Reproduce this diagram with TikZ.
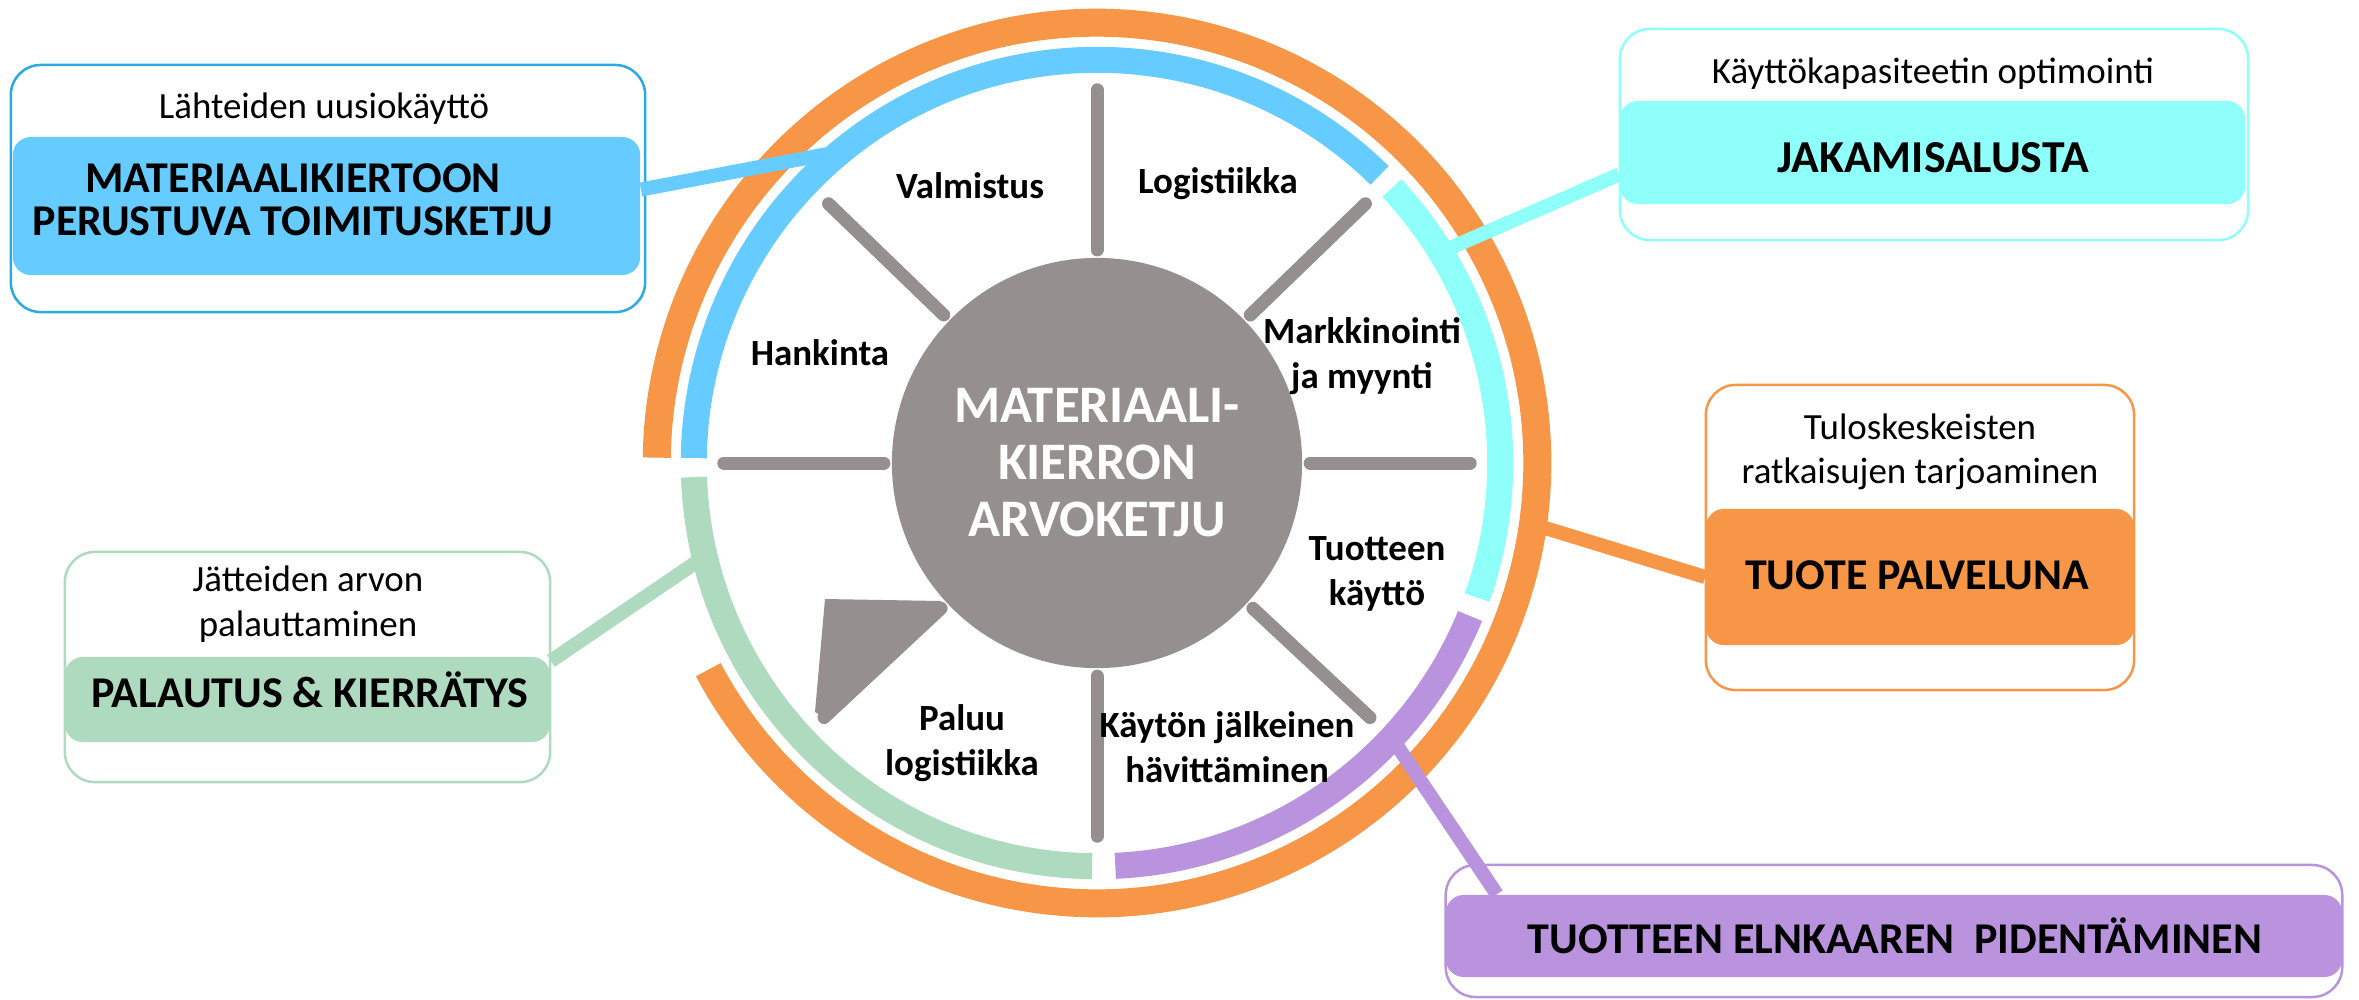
\documentclass[tikz,border=0pt]{standalone}
\usepackage{fontspec}
\setmainfont{Carlito}
\definecolor{ringorange}{HTML}{F79646}
\definecolor{supplyblue}{HTML}{66CCFF}
\definecolor{supplyline}{HTML}{2AAAE2}
\definecolor{sharecyan}{HTML}{8FFFFA}
\definecolor{lifepurple}{HTML}{BA93DF}
\definecolor{recyclegreen}{HTML}{AEDBBF}
\definecolor{hubgray}{HTML}{958F8F}
\tikzset{
  ring/.style={line width=0.26cm},
  spoke/.style={draw=hubgray, line width=0.13cm, line cap=round},
  link/.style={line width=0.14cm},
  frame/.style={draw=#1, line width=0.025cm, rounded corners=0.3cm, fill=white, inner sep=0pt},
  band/.style={fill=#1, rounded corners=0.18cm, inner sep=0pt},
  lbl/.style={font=\fontsize{10.5}{12.8}\selectfont\bfseries, align=center},
  ttl/.style={font=\fontsize{10.5}{12.6}\selectfont, align=center},
  big/.style={font=\fontsize{12.5}{12.3}\selectfont\bfseries, align=center},
}
\begin{document}
\begin{tikzpicture}[x=0.01cm, y=0.01cm]
\useasboundingbox (0,0) rectangle (2359,-999);
\coordinate (C) at (1097,-463);
% rings
\draw[ringorange, line width=0.28cm] (C) ++(208:4.40cm) arc[start angle=208, end angle=539.3, radius=4.40cm];
\draw[ring, supplyblue] (C) ++(45.5:4.03cm) arc[start angle=45.5, end angle=179.3, radius=4.03cm];
\draw[ring, sharecyan] (C) ++(-19.5:4.03cm) arc[start angle=-19.5, end angle=43, radius=4.03cm];
\draw[ring, lifepurple] (C) ++(-87.4:4.03cm) arc[start angle=-87.4, end angle=-22.3, radius=4.03cm];
\draw[ring, recyclegreen] (C) ++(182:4.03cm) arc[start angle=182, end angle=269.3, radius=4.03cm];
% spokes
\foreach \a in {90,44,0,-43,-90,223,180,136}
  \draw[spoke] (C) ++(\a:2.13cm) -- ++(\a:1.6cm);
\fill[hubgray] (825,-599) -- (941,-601) -- (941,-608) -- (824,-717) -- (815,-712) -- cycle;
\node[circle, fill=hubgray, minimum size=4.1cm, inner sep=0pt, text=white, align=center,
  font=\fontsize{15}{16.2}\selectfont\bfseries] (hub) at (C) {MATERIAALI-\\KIERRON\\ARVOKETJU};
% stages
\node[lbl, anchor=base] (make) at (970,-198) {Valmistus};
\node[lbl, anchor=base] (logistics) at (1218,-193) {Logistiikka};
\node[lbl, anchor=base] (sourcing) at (820,-365) {Hankinta};
\node[lbl] (marketing) at (1362,-356) {Markkinointi\\ja myynti};
\node[lbl] (use) at (1377,-574) {Tuotteen\\käyttö};
\node[lbl] (disposal) at (1227,-747) {Käytön jälkeinen\\hävittäminen};
\node[lbl] (reverse) at (962,-743) {Paluu\\logistiikka};
% boxes
\node[frame=supplyline, minimum width=6.34cm, minimum height=2.47cm] (supplyframe) at (328,-188.5) {};
\node[band=supplyblue, minimum width=6.27cm, minimum height=1.38cm] (supply) at (326.5,-206) {};
\node[frame=sharecyan, minimum width=6.28cm, minimum height=2.11cm] (sharingframe) at (1934,-134.5) {};
\node[band=sharecyan, minimum width=6.25cm, minimum height=1.03cm] (sharing) at (1932.5,-152.5) {};
\node[frame=ringorange, minimum width=4.28cm, minimum height=3.05cm] (serviceframe) at (1920,-537.5) {};
\node[band=ringorange, minimum width=4.28cm, minimum height=1.36cm] (service) at (1920,-577) {};
\node[frame=recyclegreen, minimum width=4.85cm, minimum height=2.30cm] (recyclingframe) at (307.5,-667) {};
\node[band=recyclegreen, minimum width=4.85cm, minimum height=0.85cm] (recycling) at (307.5,-699.5) {};
\node[frame=lifepurple, minimum width=8.96cm, minimum height=1.32cm] (lifespanframe) at (1894,-931) {};
\node[band=lifepurple, minimum width=8.96cm, minimum height=0.82cm] (lifespan) at (1894,-936) {};
% links
\path (C) ++(129.4:4.03cm) coordinate (supplyhook);
\path (C) ++(31.5:4.05cm) coordinate (sharehook);
\path (C) ++(-8:4.40cm) coordinate (servicehook);
\path (C) ++(-43:4.03cm) coordinate (lifehook);
\path (C) ++(193.4:4.03cm) coordinate (recyclehook);
\draw[link, supplyblue] (supply.3) -- (supplyhook);
\draw[link, sharecyan] (sharehook) -- (sharing.184);
\draw[link, ringorange] (servicehook) -- (service.west);
\draw[link, lifepurple] (lifehook) -- (lifespan.174);
\draw[link, recyclegreen] (recycling.9) -- (recyclehook);
% box texts
\node[ttl, anchor=base] (supplytitle) at (324,-118) {Lähteiden uusiokäyttö};
\node[big] (supplytext) at (293,-200) {MATERIAALIKIERTOON\\PERUSTUVA TOIMITUSKETJU};
\node[ttl, anchor=base] (sharingtitle) at (1933,-83) {Käyttökapasiteetin optimointi};
\node[big, anchor=base, font=\fontsize{13}{13}\selectfont\bfseries] (sharingtext) at (1933,-172) {JAKAMISALUSTA};
\node[ttl] (servicetitle) at (1920,-452) {Tuloskeskeisten\\ratkaisujen tarjoaminen};
\node[big, anchor=base] (servicetext) at (1917,-589) {TUOTE PALVELUNA};
\node[ttl] (recyclingtitle) at (308,-604) {Jätteiden arvon\\palauttaminen};
\node[big, anchor=base] (recyclingtext) at (310,-707) {PALAUTUS \& KIERRÄTYS};
\node[big, anchor=base] (lifespantext) at (1895,-953) {TUOTTEEN ELNKAAREN\ \ PIDENTÄMINEN};
\end{tikzpicture}
\end{document}
